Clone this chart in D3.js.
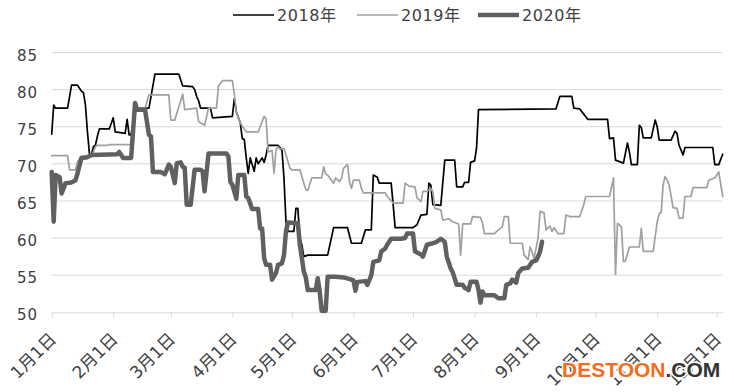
<!DOCTYPE html>
<html>
<head>
<meta charset="utf-8">
<script src="https://cdn.jsdelivr.net/npm/d3@7"></script>
<style>
  html, body { margin: 0; padding: 0; background: #ffffff; }
  svg { display: block; }
</style>
</head>
<body>
<svg id="chart" width="734" height="392"></svg>
<script>
// series names shown in the legend
let seriesNames = ["2018年", "2019年", "2020年"];
// y axis tick values
let yTicks = [50, 55, 60, 65, 70, 75, 80, 85];
// x axis tick labels (first day of each month)
let monthLabels = ["1月1日","2月1日","3月1日","4月1日","5月1日","6月1日","7月1日","8月1日","9月1日","10月1日","11月1日","12月1日"];

// [day of year (0 = Jan 1), price]
let data2018 = [[0,74.0],[1,77.9],[2,77.5],[8,77.5],[10,80.6],[13,80.6],[15,79.8],[16,79.6],[17,77.9],[18,74.3],[19,71.4],[20,71.2],[21,72.3],[22,72.5],[23,73.7],[24,74.7],[29,74.7],[31,76.2],[32,74.3],[37,74.1],[38,76.0],[39,73.9],[40,73.9],[41,75.5],[42,77.5],[49,77.5],[52,82.1],[64,82.1],[66,80.5],[71,80.4],[72,80.0],[73,79.1],[74,78.5],[75,77.5],[80,77.5],[81,76.2],[91,76.4],[92,78.8],[93,77.0],[95,75.5],[96,73.4],[97,73.3],[98,70.8],[99,68.7],[100,70.8],[102,69.0],[103,70.8],[104,70.0],[106,70.8],[107,70.2],[108,71.2],[109,72.5],[114,72.5],[115,72.2],[116,71.8],[117,68.1],[118,62.2],[119,60.9],[122,60.9],[123,64.0],[124,64.0],[125,60.0],[126,59.1],[127,57.5],[129,57.7],[139,57.7],[142,61.4],[149,61.4],[151,59.3],[156,59.3],[158,61.1],[161,61.1],[162,68.5],[164,68.2],[165,67.4],[171,67.4],[172,64.5],[173,61.4],[182,61.4],[184,61.8],[186,63.1],[189,63.2],[190,67.4],[191,67.1],[192,64.5],[196,64.4],[198,70.5],[203,70.5],[204,66.9],[207,66.9],[208,67.5],[210,67.5],[211,70.2],[213,70.4],[214,72.1],[215,77.3],[254,77.4],[256,79.1],[262,79.1],[263,77.5],[266,77.4],[268,76.7],[270,76.0],[280,76.0],[281,73.4],[283,73.5],[284,70.5],[288,70.1],[290,72.8],[291,71.6],[292,69.9],[295,69.9],[296,75.2],[297,74.9],[298,73.5],[302,73.5],[304,75.9],[305,75.0],[306,73.2],[312,73.2],[314,74.4],[315,74.1],[316,72.5],[318,71.2],[319,72.2],[333,72.2],[334,69.9],[336,69.9],[338,71.3]];

let data2019 = [[0,71.1],[8,71.1],[9,69.2],[12,69.2],[13,70.3],[15,71.0],[20,71.0],[21,71.6],[22,72.3],[23,72.5],[28,72.5],[29,72.6],[41,72.6],[42,77.5],[47,77.5],[49,79.3],[59,79.3],[60,75.9],[62,75.9],[66,79.4],[67,77.3],[73,77.5],[74,75.7],[77,75.2],[79,77.5],[83,77.5],[84,80.5],[86,81.2],[91,81.2],[92,79.4],[93,77.0],[95,75.5],[98,74.3],[104,74.3],[107,76.4],[108,76.0],[109,71.6],[111,71.8],[112,68.7],[113,71.9],[114,72.3],[115,72.0],[117,72.1],[120,69.4],[121,69.2],[125,69.2],[128,66.5],[129,66.4],[131,68.1],[136,68.1],[137,69.6],[138,68.6],[139,68.5],[142,67.4],[143,68.1],[145,67.6],[146,68.1],[147,69.4],[149,69.9],[150,67.6],[151,66.7],[152,67.8],[155,67.8],[156,66.7],[157,66.1],[168,66.1],[169,65.6],[172,64.7],[177,64.7],[178,67.4],[180,67.0],[183,66.9],[184,65.4],[186,64.9],[187,66.3],[189,66.3],[191,66.7],[192,66.2],[193,64.0],[196,63.8],[197,62.4],[200,62.6],[202,62.2],[204,62.0],[205,61.9],[206,57.7],[207,61.9],[211,61.9],[212,62.9],[216,62.8],[217,62.0],[218,60.6],[223,60.6],[225,61.1],[227,61.5],[228,62.9],[230,62.9],[231,59.3],[237,59.3],[238,57.7],[240,57.1],[241,58.8],[243,57.3],[245,60.0],[246,63.6],[248,63.4],[249,61.1],[251,61.6],[252,60.9],[253,61.4],[255,60.6],[258,60.6],[259,63.1],[261,62.9],[266,62.9],[268,64.5],[269,65.6],[281,65.6],[283,68.1],[284,55.1],[285,62.0],[287,61.5],[288,56.8],[289,56.9],[291,58.8],[296,58.8],[297,61.3],[298,58.2],[303,58.2],[305,62.2],[306,63.3],[307,63.4],[308,67.2],[309,68.3],[310,67.8],[311,67.2],[313,64.1],[315,64.0],[316,62.7],[318,62.7],[319,65.6],[322,65.6],[323,66.8],[330,66.8],[331,67.8],[334,68.1],[336,68.9],[338,65.6]];

let data2020 = [[0,68.9],[1,62.2],[2,68.5],[4,68.2],[5,66.0],[7,67.4],[10,67.5],[12,67.8],[13,68.7],[15,70.8],[18,70.9],[20,71.2],[33,71.3],[34,71.6],[36,70.8],[40,70.8],[42,78.2],[43,77.3],[47,77.3],[49,73.9],[50,73.7],[51,68.9],[55,68.9],[57,68.6],[59,69.9],[60,69.6],[62,67.4],[63,70.1],[65,70.2],[66,69.6],[67,69.5],[68,64.5],[70,64.5],[72,69.2],[75,69.2],[76,69.0],[77,66.3],[79,71.4],[88,71.4],[89,71.0],[90,67.6],[91,67.2],[93,65.3],[94,68.5],[97,68.5],[98,65.6],[99,65.4],[101,63.9],[104,63.9],[105,61.3],[106,61.3],[107,57.3],[108,56.4],[110,56.4],[111,54.4],[113,55.3],[114,56.4],[116,56.6],[117,57.7],[118,60.9],[119,62.1],[124,62.0],[125,59.1],[127,55.5],[128,54.7],[129,53.0],[133,53.0],[134,54.6],[135,52.8],[136,50.2],[138,50.2],[139,54.8],[143,54.8],[147,54.7],[151,54.4],[152,54.3],[153,52.9],[154,54.1],[158,54.2],[159,53.7],[161,55.0],[162,56.8],[165,57.0],[166,58.2],[168,58.6],[169,59.1],[171,59.9],[176,59.9],[178,60.0],[179,60.6],[182,60.6],[183,58.2],[186,57.8],[187,57.5],[189,59.1],[192,59.3],[194,59.5],[196,59.9],[198,59.5],[199,57.5],[201,55.9],[202,55.4],[204,53.7],[207,53.7],[208,53.3],[210,53.0],[211,54.1],[214,54.1],[215,53.0],[216,51.3],[217,52.8],[218,52.3],[223,52.3],[225,51.9],[228,51.9],[229,53.7],[231,53.9],[232,54.4],[234,54.0],[235,55.3],[237,55.9],[240,56.0],[242,56.8],[244,57.0],[245,57.5],[246,58.2],[247,59.5]];

let lineColors = ["#000000", "#a0a0a0", "#606060"];
let lineWidths = [1.7, 1.7, 4.5];
let textColor = "#404040";
let gridColor = "#d9d9d9";

let svg = d3.select("#chart");
let yearStart = new Date(2020, 0, 1);
let toDate = d => d3.timeDay.offset(yearStart, d);

let x = d3.scaleTime()
  .domain([yearStart, new Date(2020, 11, 4)])
  .range([51.7, 722.7]);
let y = d3.scaleLinear()
  .domain([50, 85])
  .range([312.3, 52.5]);

// horizontal grid lines
svg.append("g")
  .selectAll("line")
  .data(yTicks.slice(1))
  .join("line")
  .attr("x1", x.range()[0])
  .attr("x2", x.range()[1])
  .attr("y1", d => y(d))
  .attr("y2", d => y(d))
  .attr("stroke", gridColor)
  .attr("stroke-width", 1);

// y axis labels
let yAxis = d3.axisLeft(y).tickValues(yTicks).tickSize(0).tickPadding(0);
let yg = svg.append("g").attr("transform", "translate(38,0)").call(yAxis);
yg.select(".domain").remove();
yg.selectAll("text")
  .attr("fill", textColor)
  .attr("dy", "0.5em")
  .style("font-family", "DejaVu Sans, sans-serif")
  .style("font-size", "15px")
  .style("letter-spacing", "1px");

// x axis
let monthDates = d3.range(12).map(m => new Date(2020, m, 1));
let xAxis = d3.axisBottom(x)
  .tickValues(monthDates)
  .tickSize(5)
  .tickSizeOuter(0)
  .tickFormat((d, i) => monthLabels[i]);
let xg = svg.append("g").attr("transform", "translate(0," + y(50) + ")").call(xAxis);
xg.select(".domain").attr("stroke", gridColor);
xg.selectAll(".tick line").attr("stroke", gridColor);
xg.selectAll("text")
  .attr("x", 0)
  .attr("y", 0)
  .attr("dy", 0)
  .attr("text-anchor", "end")
  .attr("transform", "translate(5,28) rotate(-45)")
  .attr("fill", textColor)
  .style("font-family", "DejaVu Sans, 'Noto Sans CJK SC', sans-serif")
  .style("font-size", "17px");

// lines
let line = d3.line()
  .x(d => x(toDate(d[0])))
  .y(d => y(d[1]));

[data2018, data2019, data2020].forEach((series, i) => {
  svg.append("path")
    .datum(series)
    .attr("d", line)
    .attr("fill", "none")
    .attr("stroke", lineColors[i])
    .attr("stroke-width", lineWidths[i])
    .attr("stroke-linejoin", "round")
    .attr("stroke-linecap", "round");
});

// legend
let legendX = [233, 357, 478];
let legend = svg.append("g");
seriesNames.forEach((name, i) => {
  legend.append("line")
    .attr("x1", legendX[i])
    .attr("x2", legendX[i] + 41)
    .attr("y1", 15)
    .attr("y2", 15)
    .attr("stroke", lineColors[i])
    .attr("stroke-width", lineWidths[i]);
  legend.append("text")
    .attr("x", legendX[i] + 44)
    .attr("y", 21)
    .attr("fill", textColor)
    .style("font-family", "DejaVu Sans, 'Noto Sans CJK SC', sans-serif")
    .style("font-size", "16px")
    .style("letter-spacing", "0.6px")
    .text(name);
});

// watermark
let mark = svg.append("text")
  .attr("x", 562)
  .attr("y", 377)
  .style("font-family", "Liberation Sans, Arial, sans-serif")
  .style("font-size", "21px")
  .style("font-weight", "bold")
  .attr("stroke", "#ffffff")
  .attr("stroke-width", 3)
  .attr("paint-order", "stroke");
mark.append("tspan").attr("fill", "#f26c1c").text("DESTOON");
mark.append("tspan").attr("fill", "#333333").text(".COM");
</script>
</body>
</html>
